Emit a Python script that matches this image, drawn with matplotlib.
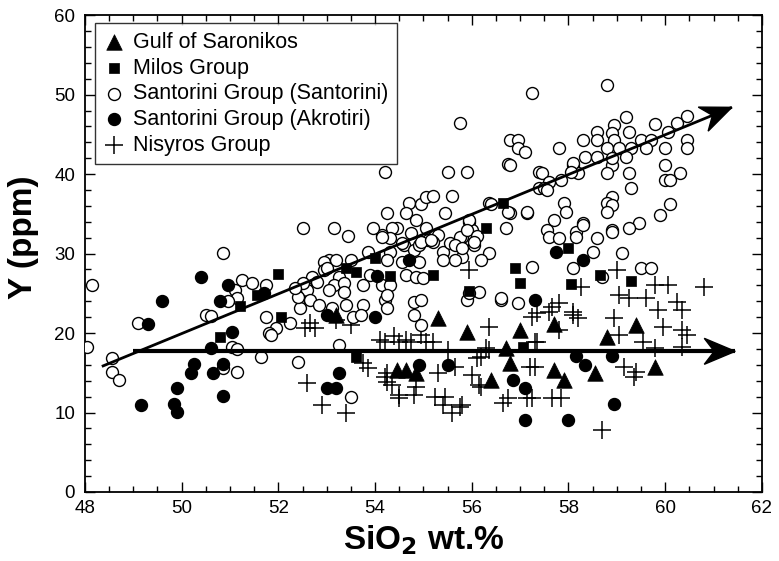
import numpy as np
import matplotlib
matplotlib.use('Agg')
import matplotlib.pyplot as plt
from matplotlib.transforms import ScaledTranslation
from matplotlib.patches import Polygon

plt.rcParams['font.family'] = ['Liberation Sans', 'DejaVu Sans']

# --- data (SiO2 wt.%, Y ppm) ---
saronikos_x = [53.2, 55.3, 55.9, 57.0, 57.7, 56.7, 56.8, 54.45, 54.65, 54.85, 56.4, 57.7, 57.9, 58.8, 59.4, 59.8, 58.55]
saronikos_y = [22.3, 21.9, 20.1, 20.4, 21.1, 18.1, 16.2, 15.3, 15.3, 15.0, 14.1, 15.3, 14.1, 19.5, 21.0, 15.7, 15.0]

milos_x = [52.0, 52.05, 51.55, 51.2, 50.8, 53.4, 53.6, 54.0, 54.3, 55.2, 55.95, 56.65, 56.3, 56.9, 57.0,
           53.6, 58.0, 58.05, 58.65, 59.3, 57.05]
milos_y = [27.4, 22.0, 24.8, 23.4, 19.5, 28.2, 27.7, 29.4, 27.2, 27.3, 25.3, 36.4, 33.2, 28.2, 26.3,
           17.0, 30.7, 26.2, 27.3, 26.5, 18.2]

santorini_x = [
    48.15, 48.05, 48.55, 48.55, 48.7, 49.1, 50.85, 50.85, 51.05, 51.15, 51.15, 51.65, 52.4, 51.25, 51.45,
    51.75, 51.1, 51.15, 50.95, 50.5, 50.6, 51.75, 52.25, 51.95, 51.8, 51.85, 52.55, 52.45, 52.45, 52.6, 52.5,
    53.15, 53.45, 54.25, 54.7, 54.95, 55.05, 55.2, 55.6, 55.45, 54.65, 54.85, 55.05, 55.3, 55.1, 54.75,
    54.45, 54.35, 54.15, 54.3, 53.85, 54.3, 54.6, 54.8, 54.9, 55.2, 55.4, 55.55, 55.8, 55.7, 55.8, 55.65,
    55.4, 54.9, 54.55, 54.25, 53.05, 52.95, 53.2, 53.5, 52.95, 52.7, 52.5, 52.8, 53.25, 53.15, 53.35, 53.05,
    53.35, 53.75, 53.9, 54.15, 54.3, 54.65, 54.85, 55.0, 52.4, 52.65, 52.85, 53.1, 53.4, 53.75, 54.2, 54.25,
    54.8, 54.95, 54.8, 53.55, 53.7, 55.9, 52.35, 53.95, 54.15, 54.2, 55.5, 55.9, 55.75, 54.55, 54.95, 55.15,
    55.75, 55.95, 56.0, 56.05, 56.05, 55.65, 56.35, 56.35, 56.7, 56.8, 57.15, 57.4, 53.0, 53.25, 53.5, 54.95,
    54.25, 56.6, 56.95, 56.15, 55.95,
    56.8, 56.95, 56.95, 57.1, 56.75, 57.4, 56.8, 57.45, 58.1, 58.9, 58.8, 57.85, 57.6, 57.5, 57.55, 58.2,
    58.9, 58.8, 58.9, 58.8, 57.9, 57.95, 56.4, 56.75, 57.15, 55.95, 55.9, 56.1, 56.05, 55.8, 57.7,
    57.55, 57.6, 57.8, 58.15, 58.15, 58.3, 58.6, 58.9, 58.5, 57.25, 58.1, 58.7, 56.2, 56.6,
    58.8, 57.25, 59.2, 58.95, 59.8, 60.25, 60.45, 58.6, 58.9, 59.25, 60.05, 58.3, 58.6, 58.95, 59.5, 59.7,
    60.45, 60.45, 57.8, 58.8, 59.05, 59.6, 60.0, 59.3, 58.35, 58.6, 58.9, 59.2, 58.1, 58.05, 59.25, 60.0,
    60.0, 60.1, 60.3, 59.3, 60.1, 59.9, 59.45, 59.25, 58.9, 58.3, 59.1, 59.5, 59.7]
santorini_y = [
    26.0, 18.2, 16.9, 15.1, 14.1, 21.3, 30.1, 15.6, 18.2, 18.0, 15.1, 17.0, 16.4, 26.7, 26.3,
    26.0, 25.4, 24.4, 24.0, 22.3, 22.1, 22.0, 21.3, 20.6, 20.0, 19.7, 26.0, 24.4, 23.1, 25.4, 33.2,
    33.2, 32.2, 35.1, 36.4, 36.3, 37.1, 37.2, 37.2, 35.1, 35.1, 34.2, 33.2, 32.3, 31.7, 32.6,
    33.2, 33.2, 32.3, 31.9, 30.2, 30.2, 31.1, 30.4, 31.1, 31.4, 30.2, 31.3, 32.1, 31.1, 29.6, 29.2,
    29.2, 28.9, 28.9, 29.2, 29.2, 28.9, 29.2, 29.2, 27.9, 27.0, 26.3, 26.4, 27.0, 26.0, 26.3, 25.4,
    25.2, 26.0, 27.3, 26.0, 26.0, 27.3, 27.0, 26.9, 24.5, 24.2, 23.5, 23.1, 23.5, 23.5, 24.2, 23.1,
    23.9, 24.2, 22.3, 22.0, 22.3, 24.2, 25.7, 33.2, 32.1, 40.3, 40.3, 40.3, 46.4, 31.3, 31.4, 31.7,
    32.1, 34.0, 33.0, 32.1, 31.1, 31.1, 36.4, 30.1, 33.2, 35.1, 35.1, 38.2, 28.2, 18.5, 12.0, 21.0,
    24.8, 24.2, 23.8, 25.2, 25.0,
    44.3, 44.3, 43.3, 42.8, 41.3, 40.3, 41.1, 40.1, 41.1, 41.1, 40.1, 39.2, 39.0, 38.2, 38.0, 40.1,
    37.1, 36.4, 36.1, 35.2, 36.4, 35.2, 36.2, 35.2, 35.2, 34.2, 33.0, 32.2, 31.4, 30.7, 34.2,
    33.0, 32.1, 31.9, 32.7, 32.1, 33.8, 31.9, 33.0, 30.2, 28.3, 28.2, 27.0, 29.2, 24.4,
    51.2, 50.2, 47.2, 46.2, 46.3, 46.4, 47.3, 45.3, 45.2, 45.3, 45.3, 44.3, 44.3, 44.3, 44.3, 44.3,
    44.3, 43.3, 43.3, 43.3, 43.3, 43.3, 43.3, 43.3, 42.1, 42.1, 42.0, 42.1, 41.4, 40.3, 40.1, 41.1,
    39.2, 39.2, 40.1, 38.2, 36.2, 34.8, 33.8, 33.2, 32.7, 33.6, 30.1, 28.2, 28.2]

akrotiri_x = [50.4, 49.6, 49.3, 50.95, 50.8, 51.7, 51.05, 49.15, 49.9, 49.85, 49.9, 50.25, 50.2, 50.6, 50.85,
              50.65, 50.85, 53.0, 54.0, 54.05, 54.7, 53.25, 53.0, 53.2, 54.9, 55.5, 56.85, 57.1, 57.1, 57.3,
              57.75, 58.3, 58.15, 58.35, 58.9, 58.95, 58.0]
akrotiri_y = [27.0, 24.0, 21.1, 26.0, 24.0, 25.0, 20.1, 10.9, 13.1, 11.1, 10.1, 16.1, 15.0, 18.1, 16.1,
              15.0, 12.1, 22.3, 22.0, 27.2, 29.2, 15.0, 13.1, 13.1, 16.0, 16.0, 14.1, 13.1, 9.1, 24.2,
              30.2, 29.2, 17.1, 16.0, 17.1, 11.1, 9.1]

nisyros_x = [52.55, 52.6, 55.95, 56.35, 57.25, 52.75, 53.5, 54.1, 54.65, 54.75, 55.05, 55.2, 55.5, 53.75,
             53.85, 52.9, 53.4, 54.25, 54.25, 54.5, 54.8, 54.85, 55.25, 55.45, 55.4, 55.6, 55.8, 55.3, 55.65,
             56.0, 56.15, 56.65, 56.75, 57.15, 57.2, 56.2, 56.35, 57.35, 57.8, 57.35, 57.65, 58.1, 54.2,
             54.5, 54.2, 54.35, 54.5, 55.75, 57.65, 57.85, 56.2, 56.1, 56.3, 59.0, 59.8, 60.05, 60.8,
             58.25, 59.05, 59.25, 59.6, 57.6, 58.1, 58.2, 59.85, 60.25, 60.35, 58.95, 59.95, 60.35,
             60.45, 59.05, 59.55, 60.35, 59.8, 57.3, 57.3, 59.15, 59.4, 59.35, 57.25, 58.7, 57.8, 52.65,
             53.2, 54.4, 54.95]
nisyros_y = [20.6, 13.7, 27.9, 20.8, 22.0, 20.6, 21.0, 19.1, 19.1, 18.9, 18.9, 18.9, 17.9, 16.2,
             15.6, 10.9, 9.9, 15.0, 13.8, 12.2, 12.2, 13.2, 11.9, 11.9, 10.9, 9.9, 10.9, 15.0, 15.7,
             14.7, 13.5, 11.2, 11.8, 11.8, 15.7, 17.0, 17.9, 18.9, 23.8, 22.5, 23.3, 22.3, 18.9,
             18.9, 14.5, 13.5, 11.8, 10.7, 11.8, 11.8, 13.2, 16.9, 18.1, 27.9, 26.0, 26.0, 25.8,
             25.8, 24.8, 24.4, 24.4, 22.6, 22.6, 21.9, 22.9, 23.9, 22.9, 21.9, 20.8, 20.4,
             19.7, 19.7, 18.9, 18.2, 18.1, 18.9, 15.7, 15.7, 15.1, 14.5, 11.8, 7.8, 20.4, 21.3,
             21.6, 19.6, 19.8]

# trend arrows (start, tip)
trend_up = ((48.35, 15.8), (61.38, 48.4))
trend_flat = ((49.0, 17.7), (61.45, 17.7))

fig = plt.figure(figsize=(7.79, 5.61), dpi=100)
ax = fig.add_axes([0.109, 0.123, 0.869, 0.850])

ax.scatter(nisyros_x, nisyros_y, marker='+', s=160, c='black', linewidths=1.1, zorder=2,
           label='Nisyros Group')
ax.scatter(santorini_x, santorini_y, marker='o', s=74, facecolors='white', edgecolors='black',
           linewidths=1.0, zorder=3, label='Santorini Group (Santorini)')
ax.scatter(akrotiri_x, akrotiri_y, marker='o', s=74, c='black', edgecolors='black', linewidths=1.0,
           zorder=4, label='Santorini Group (Akrotiri)')
ax.scatter(milos_x, milos_y, marker='s', s=60, c='black', edgecolors='black', linewidths=0.5,
           zorder=5, label='Milos Group')
ax.scatter(saronikos_x, saronikos_y, marker='^', s=125, c='black', edgecolors='black', linewidths=0.5,
           zorder=6, label='Gulf of Saronikos')

ax.set_xlim(48, 62)
ax.set_ylim(0, 60)


def draw_arrow(start, tip, lw):
    ax.plot([start[0], tip[0]], [start[1], tip[1]], color='black', lw=lw, zorder=7,
            solid_capstyle='butt')
    p0 = ax.transData.transform(start)
    p1 = ax.transData.transform(tip)
    ang = np.arctan2(p1[1] - p0[1], p1[0] - p0[0])
    # arrowhead in inches, tip at origin
    L, W, N = 0.31, 0.13, 0.21
    pts = np.array([[0, 0], [-L, W], [-N, 0], [-L, -W]])
    rot = np.array([[np.cos(ang), -np.sin(ang)], [np.sin(ang), np.cos(ang)]])
    pts = pts @ rot.T
    trans = fig.dpi_scale_trans + ScaledTranslation(tip[0], tip[1], ax.transData)
    ax.add_patch(Polygon(pts, closed=True, facecolor='black', edgecolor='black',
                         transform=trans, zorder=8, clip_on=False))


draw_arrow(trend_up[0], trend_up[1], 2.0)
draw_arrow(trend_flat[0], trend_flat[1], 3.0)

ax.set_xticks(np.arange(48, 63, 2))
ax.set_xticks(np.arange(48, 62.01, 0.5), minor=True)
ax.set_yticks(np.arange(0, 61, 10))
ax.set_yticks(np.arange(0, 61, 2), minor=True)
ax.tick_params(which='both', direction='in', top=True, right=True, labelsize=13.5, width=1.0)
ax.tick_params(axis='x', which='major', pad=6)
ax.tick_params(axis='y', which='major', pad=7)
ax.tick_params(which='major', length=7)
ax.tick_params(which='minor', length=4)
for sp in ax.spines.values():
    sp.set_linewidth(1.3)

ax.set_xlabel('SiO$_\\mathbf{2}$ wt.%', fontsize=24, fontweight='bold', labelpad=4)
ax.set_ylabel('Y (ppm)', fontsize=24, fontweight='bold', labelpad=10)
ax.yaxis.set_label_coords(-0.068, 0.535)

h, l = ax.get_legend_handles_labels()
order = [4, 3, 1, 2, 0]
leg = ax.legend([h[i] for i in order], [l[i] for i in order], loc='upper left',
                bbox_to_anchor=(0.015, 0.983), borderaxespad=0, fontsize=15.5, frameon=True,
                fancybox=False, edgecolor='black', handletextpad=0.35, handlelength=1.0,
                labelspacing=0.22, borderpad=0.4, markerscale=1.0)
leg.get_frame().set_linewidth(1.0)
leg.set_zorder(10)

fig.savefig('out.png', dpi=100)
